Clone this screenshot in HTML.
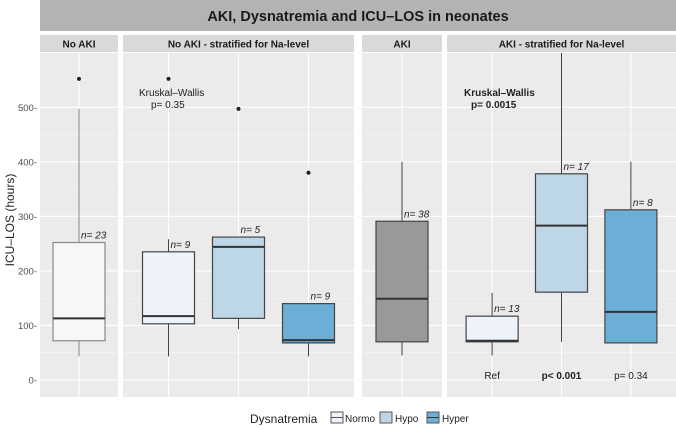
<!DOCTYPE html>
<html><head><meta charset="utf-8"><style>
body{margin:0;background:#fff;font-family:"Liberation Sans",sans-serif}
svg text{font-family:"Liberation Sans",sans-serif}
</style></head><body>
<svg id="c" width="676" height="425" viewBox="0 0 676 425">
<rect x="40" y="0" width="636" height="31" fill="#b3b3b3"/>
<text x="358" y="21" text-anchor="middle" font-size="14.5" font-weight="bold" fill="#1a1a1a">AKI, Dysnatremia and ICU–LOS in neonates</text>
<g id="panels"></g>
<text transform="translate(14,220) rotate(-90)" text-anchor="middle" font-size="12" fill="#222">ICU–LOS (hours)</text>
<g>
<text x="250" y="423" font-size="12" fill="#222">Dysnatremia</text>
<rect x="331" y="412" width="12" height="11" fill="#eef2fb" stroke="#555"/>
<line x1="331" y1="417.5" x2="343" y2="417.5" stroke="#555"/>
<text x="345" y="422" font-size="10" fill="#222">Normo</text>
<rect x="380" y="412" width="12" height="11" fill="#bdd7e7" stroke="#555"/>
<text x="395" y="422" font-size="10" fill="#222">Hypo</text>
<rect x="427" y="412" width="12" height="11" fill="#6baed6" stroke="#555"/>
<line x1="427" y1="417.5" x2="439" y2="417.5" stroke="#333"/>
<text x="442" y="422" font-size="10" fill="#222">Hyper</text>
</g>
</svg>
<script>
const panelNames=["No AKI","No AKI - stratified for Na-level","AKI","AKI - stratified for Na-level"];
const boxPanel=[0,1,1,1,2,3,3,3];
const boxGroup=["Normo0","Normo","Hypo","Hyper","AKI","Normo","Hypo","Hyper"];
const whiskLow=[43,43,93,43,45,45,70,67];
const q1=[72,103,113,68,70,70,161,68];
const median=[113,117,244,73,149,72,283,125];
const q3=[252,235,262,140,291,117,378,312];
const whiskHigh=[497,258,262,140,400,160,600,400];
const outliers=[[552],[552],[497],[380],[],[],[],[]];
const nLabels=["n= 23","n= 9","n= 5","n= 9","n= 38","n= 13","n= 17","n= 8"];
const yTicks=[0,100,200,300,400,500];

const panelX=[[40,118],[123,354],[362,442],[447,676]];
const slotCount=[1,3,1,3];
const pTop=53,pBot=397;
const y=v=>380-v*0.5455;
const fills={Normo0:"#f7f7f7",Normo:"#eef2fb",Hypo:"#bdd7e7",Hyper:"#6baed6",AKI:"#999999"};
const strokes={Normo0:"#888",Normo:"#444",Hypo:"#444",Hyper:"#444",AKI:"#444"};
const NS="http://www.w3.org/2000/svg";
const g=document.getElementById("panels");
function mk(t,a,p){const e=document.createElementNS(NS,t);for(const k in a)e.setAttribute(k,a[k]);(p||g).appendChild(e);return e;}
function xc(p,slot){const [a,b]=panelX[p];const n=slotCount[p];if(n===1)return (a+b)/2;const w=(b-a)/(n-1+1.3);return a+w*(0.65+slot);}
const slotIdx=[0,0,1,2,0,0,1,2];
panelX.forEach(([a,b],p)=>{
  const bg=mk("rect",{x:a,y:pTop,width:b-a,height:pBot-pTop,fill:"#ebebeb"});
  
  
  const st=mk("rect",{x:a,y:35,width:b-a,height:17,fill:"#d9d9d9"});
  
  
  const tx=mk("text",{x:(a+b)/2,y:47.5,"text-anchor":"middle","font-size":"10","font-weight":"bold",fill:"#1a1a1a"});
  tx.textContent=panelNames[p];
  
  
  for(let v=50;v<=550;v+=100){if(y(v)>pTop)mk("line",{x1:a,x2:b,y1:y(v),y2:y(v),stroke:"#f5f5f5","stroke-width":0.6});}
  yTicks.forEach(v=>mk("line",{x1:a,x2:b,y1:y(v),y2:y(v),stroke:"#fff","stroke-width":1.1}));
  for(let s=0;s<slotCount[p];s++){const x=xc(p,s);mk("line",{x1:x,x2:x,y1:pTop,y2:pBot,stroke:"#fff","stroke-width":1.1});}
});
yTicks.forEach(v=>{
  const t=mk("text",{x:37,y:y(v)+3.5,"text-anchor":"end","font-size":"9.5",fill:"#4d4d4d"});
  t.textContent=v+"-";
  
  
});
const bw=52;
boxGroup.forEach((grp,i)=>{
  const x=xc(boxPanel[i],slotIdx[i]);const sc=strokes[grp];
  const gg=mk("g",{});
  
  
  mk("line",{x1:x,x2:x,y1:Math.max(pTop,y(whiskHigh[i])),y2:y(whiskLow[i]),stroke:sc,"stroke-width":1},gg);
  mk("rect",{x:x-bw/2,y:y(q3[i]),width:bw,height:y(q1[i])-y(q3[i]),fill:fills[grp],stroke:sc,"stroke-width":1.2},gg);
  mk("line",{x1:x-bw/2,x2:x+bw/2,y1:y(median[i]),y2:y(median[i]),stroke:"#333","stroke-width":2},gg);
  outliers[i].forEach(o=>mk("circle",{cx:x,cy:y(o),r:2,fill:"#222"},gg));
  const n=mk("text",{x:x+2,y:y(q3[i])-4,"font-size":"10","font-style":"italic",fill:"#222"},gg);
  n.textContent=nLabels[i];
});
function txt(x,yy,s,name,bold,anchor){const t=mk("text",{x:x,y:yy,"font-size":"10",fill:"#222","text-anchor":anchor||"start","font-weight":bold?"bold":"normal"});t.textContent=s;}
txt(139,96,"Kruskal–Wallis","kw-label-noaki");
txt(151,108,"p= 0.35","kw-p-noaki");
txt(464,96,"Kruskal–Wallis","kw-label-aki",true);
txt(471,108,"p= 0.0015","kw-p-aki",true);
txt(xc(3,0),379,"Ref","p-ref",false,"middle");
txt(xc(3,1),379,"p< 0.001","p-hypo",true,"middle");
txt(xc(3,2),379,"p= 0.34","p-hyper",false,"middle");
</script>
</body></html>
